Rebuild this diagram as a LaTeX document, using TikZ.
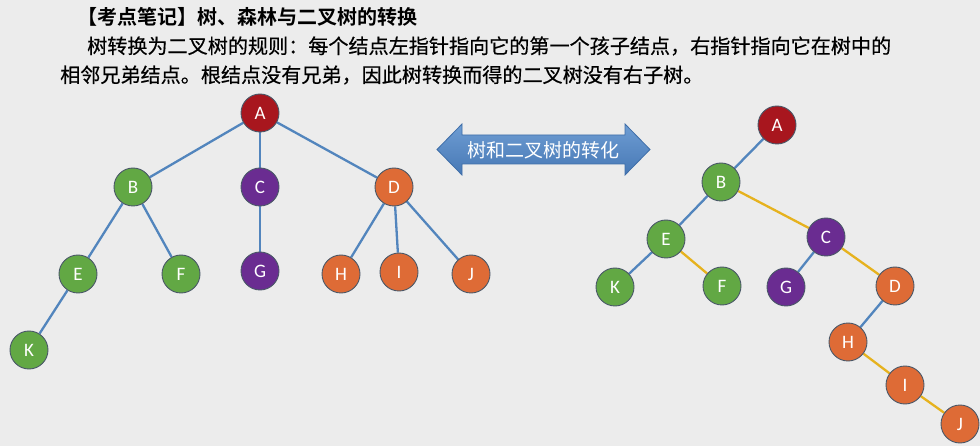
\documentclass[tikz,border=0pt]{standalone}
\usepackage{fontspec}
\newfontfamily\cjk{Noto Sans CJK SC}
\newfontfamily\cjkm[FakeBold=0.5]{Noto Sans CJK SC}
\newfontfamily\cjkb{Noto Sans CJK SC Bold}
\newfontfamily\lat{Carlito}
\usetikzlibrary{backgrounds}
\definecolor{bg}{HTML}{ECECEC}
\definecolor{cred}{HTML}{A8161E}
\definecolor{cgreen}{HTML}{62A844}
\definecolor{cpurple}{HTML}{6A2C91}
\definecolor{corange}{HTML}{DE6B36}
\definecolor{cborder}{HTML}{4A5868}
\definecolor{cblue}{HTML}{5285BD}
\definecolor{cyellow}{HTML}{E6B21E}
\definecolor{arrtop}{HTML}{6E9DD3}
\definecolor{arrbot}{HTML}{4778B5}
\definecolor{arredge}{HTML}{3F6EA8}
\tikzset{
  tnode/.style={circle, draw=cborder, line width=0.9pt, minimum size=38pt, inner sep=0pt,
    text=white, font=\lat\fontsize{19}{19}\selectfont},
  rednode/.style={tnode, fill=cred},
  greennode/.style={tnode, fill=cgreen},
  purplenode/.style={tnode, fill=cpurple},
  orangenode/.style={tnode, fill=corange},
  blueedge/.style={draw=cblue, line width=2.3pt},
  yellowedge/.style={draw=cyellow, line width=2.3pt},
  txt/.style={anchor=west, inner sep=0pt}
}
\begin{document}
\begin{tikzpicture}[x=1pt,y=-1pt]
\begin{scope}[on background layer]
\fill[bg] (0,0) rectangle (980,446);
\end{scope}
\useasboundingbox (0,0) rectangle (980,446);
% texts
\node[txt] (title) at (77,17) {\cjkb\fontsize{20}{20}\selectfont 【考点笔记】树、森林与二叉树的转换};
\node[txt] (line1) at (87,46) {\cjkm\fontsize{20.1}{20.1}\selectfont 树转换为二叉树的规则：每个结点左指针指向它的第一个孩子结点，右指针指向它在树中的};
\node[txt] (line2) at (60,75) {\cjkm\fontsize{20.1}{20.1}\selectfont 相邻兄弟结点。根结点没有兄弟，因此树转换而得的二叉树没有右子树。};
% double arrow
\path[top color=arrtop, bottom color=arrbot, draw=arredge, line width=0.8pt]
  (437,149.5) -- (462,124) -- (462,135) -- (625,135) -- (625,124) -- (650,149.5)
  -- (625,175) -- (625,164) -- (462,164) -- (462,175) -- cycle;
\node[text=white, inner sep=0pt] (arrtext) at (543,150) {\cjk\fontsize{19}{19}\selectfont 树和二叉树的转化};
% left tree
\node[rednode] (lA) at (260,113) {A};
\node[greennode] (lB) at (133,187) {B};
\node[purplenode] (lC) at (260,187) {C};
\node[orangenode] (lD) at (394,187) {D};
\node[greennode] (lE) at (78,274) {E};
\node[greennode] (lF) at (181,274) {F};
\node[purplenode] (lG) at (260,271) {G};
\node[orangenode] (lH) at (341,274) {H};
\node[orangenode] (lI) at (399,272) {I};
\node[orangenode] (lJ) at (471,274) {J};
\node[greennode] (lK) at (29,350) {K};
% right tree
\node[rednode] (rA) at (777,125) {A};
\node[greennode] (rB) at (721,182) {B};
\node[purplenode] (rC) at (826,237) {C};
\node[greennode] (rE) at (666,239) {E};
\node[greennode] (rF) at (722,286) {F};
\node[greennode] (rK) at (615,287) {K};
\node[purplenode] (rG) at (786,287) {G};
\node[orangenode] (rD) at (895,286) {D};
\node[orangenode] (rH) at (848,342) {H};
\node[orangenode] (rI) at (905,385) {I};
\node[orangenode] (rJ) at (960,424) {J};
\begin{scope}[on background layer]
\draw[blueedge] (lA) -- (lB);
\draw[blueedge] (lA) -- (lC);
\draw[blueedge] (lA) -- (lD);
\draw[blueedge] (lB) -- (lE);
\draw[blueedge] (lB) -- (lF);
\draw[blueedge] (lC) -- (lG);
\draw[blueedge] (lD) -- (lH);
\draw[blueedge] (lD) -- (lI);
\draw[blueedge] (lD) -- (lJ);
\draw[blueedge] (lE) -- (lK);
\draw[blueedge] (rA) -- (rB);
\draw[blueedge] (rB) -- (rE);
\draw[yellowedge] (rB) -- (rC);
\draw[blueedge] (rE) -- (rK);
\draw[yellowedge] (rE) -- (rF);
\draw[blueedge] (rC) -- (rG);
\draw[yellowedge] (rC) -- (rD);
\draw[blueedge] (rD) -- (rH);
\draw[yellowedge] (rH) -- (rI);
\draw[yellowedge] (rI) -- (rJ);
\end{scope}
\end{tikzpicture}
\end{document}
